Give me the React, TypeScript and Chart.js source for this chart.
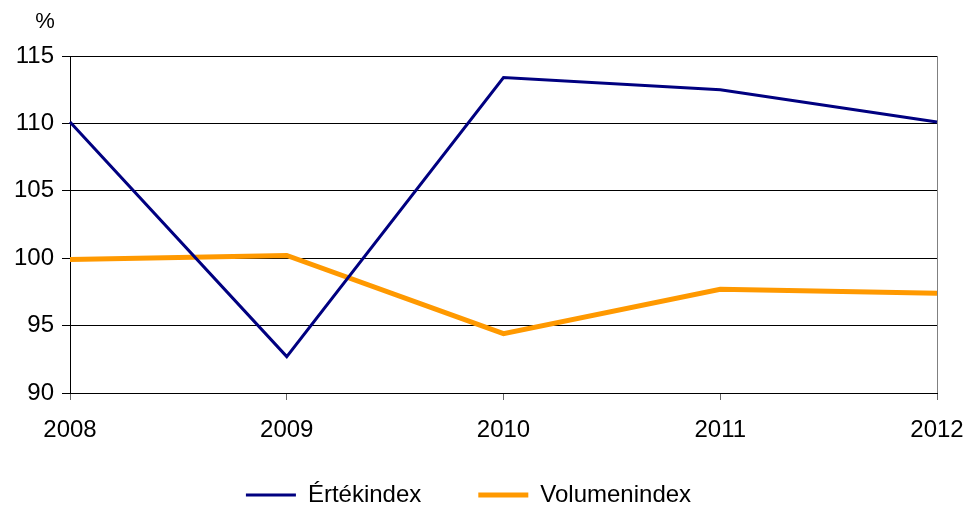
import React, { useEffect, useRef } from "react";
import { Chart, registerables } from "chart.js";

Chart.register(...registerables);

const years = ["2008", "2009", "2010", "2011", "2012"];
const ertekindex = [110.1, 92.7, 113.4, 112.5, 110.1];
const volumenindex = [99.9, 100.2, 94.4, 97.7, 97.4];
const yTicks = [90, 95, 100, 105, 110, 115];

const FONT = "'Liberation Sans', Arial, sans-serif";
const LEGEND_PAD = 57;
const LEGEND_CENTER_Y = 495;

const percentPlugin = {
  id: "percentLabel",
  afterDraw(chart: any) {
    const ctx = chart.ctx;
    ctx.save();
    ctx.font = `22px ${FONT}`;
    ctx.fillStyle = "#000";
    ctx.textAlign = "center";
    ctx.textBaseline = "middle";
    ctx.fillText("%", 45, 22);
    ctx.restore();
  },
};

const legendPlacePlugin = {
  id: "legendPlace",
  beforeLayout(chart: any) {
    const lg = chart.legend;
    if (lg && !lg.__patched) {
      const orig = lg.fit;
      lg.fit = function (this: any) {
        orig.call(this);
        this.height = 58;
      };
      lg.__patched = true;
    }
  },
  afterLayout(chart: any) {
    const lg = chart.legend;
    if (!lg) return;
    lg.top = LEGEND_CENTER_Y - LEGEND_PAD - 12;
    lg.bottom = chart.height + 20;
    lg.height = lg.bottom - lg.top;
  },
};

export default function App() {
  const ref = useRef<HTMLCanvasElement | null>(null);
  useEffect(() => {
    if (!ref.current) return;
    const chart = new Chart(ref.current, {
      type: "line",
      data: {
        labels: years,
        datasets: [
          {
            label: "Értékindex",
            data: ertekindex,
            borderColor: "#000080",
            backgroundColor: "#000080",
            borderWidth: 3,
            pointRadius: 0,
            tension: 0,
          },
          {
            label: "Volumenindex",
            data: volumenindex,
            borderColor: "#FF9900",
            backgroundColor: "#FF9900",
            borderWidth: 5,
            pointRadius: 0,
            tension: 0,
          },
        ],
      },
      options: {
        responsive: false,
        animation: false,
        layout: { padding: { top: 56, right: 29, left: 0, bottom: 0 } },
        plugins: {
          tooltip: { enabled: false },
          legend: {
            position: "bottom",
            labels: {
              font: { family: FONT, size: 24 },
              color: "#000",
              boxWidth: 50,
              boxHeight: 0,
              padding: LEGEND_PAD,
              generateLabels: (chart: any) =>
                chart.data.datasets.map((ds: any, i: number) => ({
                  text: ds.label,
                  fillStyle: ds.borderColor,
                  strokeStyle: ds.borderColor,
                  lineWidth: ds.borderWidth,
                  lineCap: "round",
                  hidden: false,
                  datasetIndex: i,
                  fontColor: "#000",
                })),
            },
          },
        },
        scales: {
          x: {
            type: "category",
            offset: false,
            afterFit: (s: any) => {
              s.height = 55;
              s.paddingLeft = 0;
              s.paddingRight = 0;
            },
            grid: {
              drawOnChartArea: true,
              color: (c: any) => (c.index === years.length - 1 ? "#808080" : "rgba(0,0,0,0)"),
              tickColor: "#666",
              tickLength: 7,
              lineWidth: 1,
            },
            border: { display: true, color: "#000", width: 1 },
            ticks: {
              font: { family: FONT, size: 24 },
              color: "#000",
              padding: 16,
              maxRotation: 0,
              autoSkip: false,
            },
          },
          y: {
            min: 90,
            max: 115,
            afterFit: (s: any) => {
              s.width = 70;
            },
            afterBuildTicks: (s: any) => {
              s.ticks = yTicks.map((v) => ({ value: v }));
            },
            grid: {
              color: "#000",
              lineWidth: 1,
              tickLength: 8,
              tickColor: "#000",
            },
            border: { display: true, color: "#000", width: 1 },
            ticks: {
              font: { family: FONT, size: 24 },
              color: "#000",
              padding: 8,
            },
          },
        },
      },
      plugins: [percentPlugin, legendPlacePlugin],
    } as any);
    return () => chart.destroy();
  }, []);
  return (
    <div style={{ position: "absolute", left: 0, top: 0, width: 966, height: 506, background: "#fff" }}>
      <canvas ref={ref} width={966} height={506} style={{ width: 966, height: 506 }} />
    </div>
  );
}
